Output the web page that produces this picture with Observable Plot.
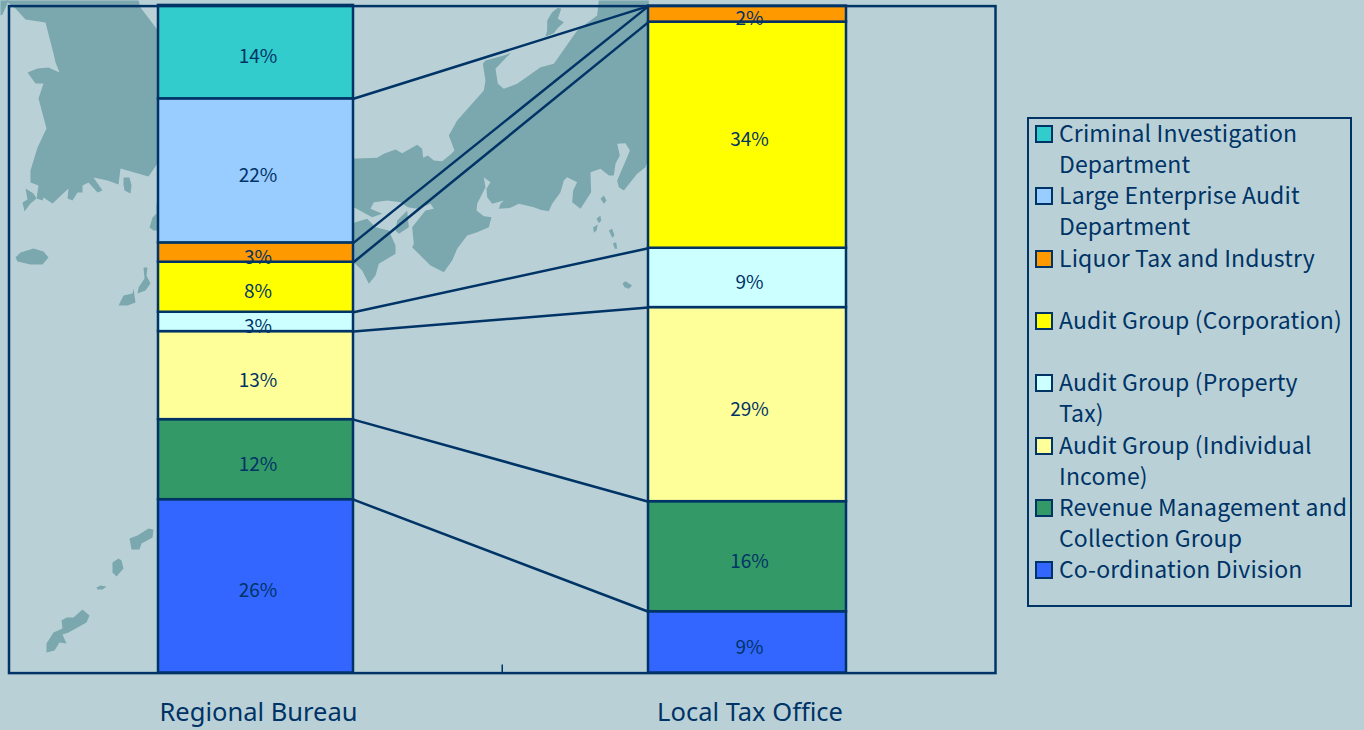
<!DOCTYPE html>
<html>
<head>
<meta charset="utf-8">
<script src="https://cdn.jsdelivr.net/npm/d3@7"></script>
<script src="https://cdn.jsdelivr.net/npm/@observablehq/plot@0.6"></script>
<style>
  html, body { margin: 0; padding: 0; background: #B9D1D6; width: 1364px; height: 730px; overflow: hidden; }
  #chart { position: absolute; left: 0; top: 0; }
  #legend { position: absolute; left: 1027px; top: 117px; width: 321px; height: 486px; border: 2px solid #003366; box-sizing: content-box;
            font-family: "Noto Sans CJK JP", "Noto Sans", sans-serif; font-size: 23px; color: #003366; letter-spacing: 0.15px; }
  .item { position: absolute; left: 0; right: 0; white-space: pre; line-height: 31px; padding-left: 30px; margin: 0; }
  .swatch { position: absolute; left: 6px; top: 8px; width: 14px; height: 14px; border: 2px solid #003366; }
</style>
</head>
<body>
<div id="chart"></div>
<div id="legend"></div>
<script>
// Series, bottom of the stack first
const seriesNames = ["Co-ordination Division", "Revenue Management and Collection Group", "Audit Group (Individual Income)",
  "Audit Group (Property Tax)", "Audit Group (Corporation)", "Liquor Tax and Industry",
  "Large Enterprise Audit Department", "Criminal Investigation Department"];
const seriesColors = ["#3366FF", "#339966", "#FFFF99", "#CCFFFF", "#FFFF00", "#FF9900", "#99CCFF", "#33CCCC"];
const legendLines = ["Criminal Investigation\nDepartment", "Large Enterprise Audit\nDepartment", "Liquor Tax and Industry",
  "Audit Group (Corporation)", "Audit Group (Property\nTax)", "Audit Group (Individual\nIncome)",
  "Revenue Management and\nCollection Group", "Co-ordination Division"];

const categories = ["Regional Bureau", "Local Tax Office"];
const regionalValues = [26, 12, 13.2, 2.9, 7.5, 2.9, 21.6, 14];
const localValues = [9.2, 16.5, 29.1, 8.9, 33.9, 2.4, 0, 0];
const regionalLabels = ["26%", "12%", "13%", "3%", "8%", "3%", "22%", "14%"];
const localLabels = ["9%", "16%", "29%", "9%", "34%", "2%", "", ""];

const koreaMain = [[5,0],[15,8],[25,19],[45,22],[53,53],[55,62],[59,72],[48,67],[37,68],[27,72],[35,83],[43,83],[38,98],[46,128],[37,147],[30,170],[30,182],[38,185],[36,198],[42,200],[43,197],[52,203],[68,188],[67,198],[72,200],[77,192],[82,192],[82,185],[88,182],[97,192],[102,190],[93,177],[107,180],[118,184],[120,168],[148,176],[157,163],[165,150],[165,40],[140,7],[138,0]];
const cornerLand = [[0,0],[8,0],[6,5],[2,14],[0,15]];
const koreaIslands = [
  [[25,188],[33,193],[36,198],[30,203],[24,211],[22,202],[27,199]],
  [[123,177],[129,177],[131,185],[130,193],[124,190],[123,184]],
  [[15,257],[20,252],[33,248],[43,251],[48,257],[42,264],[30,264],[17,261]],
  [[149,227],[152,217],[156,213],[156,203],[160,203],[160,230],[153,230]],
  [[118,305],[123,295],[132,293],[133,288],[135,302],[127,305]],
  [[143,267],[147,267],[146,275],[150,283],[145,290],[137,293],[138,287],[144,278]],
  [[129,538],[137,535],[148,528],[153,529],[152,537],[141,543],[139,549],[131,549]],
  [[112,562],[118,558],[121,560],[123,568],[116,576],[112,572]],
  [[96,587],[100,585],[106,586],[102,589],[97,589]],
  [[61,620],[66,617],[73,617],[82,609],[89,615],[86,622],[68,632],[62,634],[66,643],[59,642],[54,650],[46,652],[46,643],[53,632],[62,628]]
];
// these are in 3x crop units of the crop that starts at x = 350
const honshu = [[-40,475],[0,475],[80,472],[100,460],[135,447],[155,458],[200,433],[215,445],[218,472],[232,465],[250,480],[275,482],[300,462],[312,450],[295,405],[320,360],[400,270],[405,240],[397,190],[405,180],[460,165],[482,157],[470,168],[435,205],[442,250],[460,265],[500,250],[570,200],[610,190],[680,90],[740,45],[745,0],[895,0],[895,470],[885,500],[860,520],[820,570],[805,560],[800,540],[830,470],[838,450],[825,428],[800,430],[808,465],[795,490],[790,525],[775,525],[750,505],[720,515],[722,575],[690,625],[665,605],[668,570],[680,545],[650,530],[640,540],[630,575],[605,610],[595,632],[570,628],[550,620],[505,610],[480,622],[445,625],[450,610],[460,600],[425,610],[410,590],[408,565],[420,545],[400,530],[405,560],[380,610],[378,630],[400,647],[423,650],[415,680],[380,695],[350,705],[320,745],[305,780],[280,815],[240,795],[185,740],[190,730],[185,680],[225,630],[250,625],[240,610],[200,625],[172,620],[150,605],[110,600],[70,605],[60,625],[95,640],[65,650],[0,615],[-40,615]];
const shikoku = [[-40,670],[0,670],[50,655],[75,680],[115,690],[135,735],[135,760],[85,790],[75,825],[55,850],[35,810],[10,785],[-40,785]];
const awaji = [[140,660],[170,630],[175,680],[145,700],[135,690]];
const sado = [[590,60],[605,35],[622,22],[632,25],[622,55],[640,65],[620,85],[610,98],[585,108],[590,90]];
const izu = [
  [[750,595],[760,585],[768,600],[760,610]],
  [[738,655],[750,645],[752,660],[745,668]],
  [[728,680],[742,672],[738,690],[730,697]],
  [[775,690],[785,685],[792,705],[785,712]],
  [[787,728],[797,725],[800,745],[793,745]],
  [[816,848],[825,842],[845,855],[835,865],[822,860]]
];

const inkColor = "#003366";
const landColor = "#7BA7AE";
const fontFamily = '"Noto Sans CJK JP", "Noto Sans", sans-serif';

const plotTop = 5.6, plotBottom = 672.6, plotLeft = 8.5, plotRight = 995;
const barCenters = [255.5, 747];
const barHalfWidths = [97.5, 99];
const toPercent = py => (plotBottom - py) / (plotBottom - plotTop) * 100;

// Map table
const shapes = [koreaMain, cornerLand, ...koreaIslands,
  ...[honshu, shikoku, awaji, sado, ...izu].map(s => s.map(([x, y]) => [350 + x / 3, y / 3]))];
const mapPoints = shapes.flatMap((s, id) => s.map(([x, y]) => ({id, x, y: toPercent(y)})));

// Bar table
const columns = [regionalValues, localValues].map((vals, c) => {
  const cum = Array.from(d3.cumsum(vals));
  return vals.map((v, i) => ({
    series: seriesNames[i],
    category: categories[c],
    x1: barCenters[c] - barHalfWidths[c],
    x2: barCenters[c] + barHalfWidths[c],
    xc: barCenters[c],
    y1: cum[i] - v,
    y2: cum[i],
    value: v,
    label: (c === 0 ? regionalLabels : localLabels)[i]
  }));
});
const bars = columns.flat().filter(d => d.value > 0);
const links = seriesNames.slice(0, 7).map((s, i) => ({
  x1: columns[0][i].x2, y1: columns[0][i].y2,
  x2: columns[1][i].x1, y2: columns[1][i].y2
}));
const midTick = [(plotLeft + plotRight) / 2];

const chart = Plot.plot({
  width: 1000, height: 730,
  marginLeft: plotLeft, marginRight: 1000 - plotRight, marginTop: plotTop, marginBottom: 730 - plotBottom,
  style: {background: "transparent", overflow: "visible", fontFamily},
  x: {domain: [plotLeft, plotRight]},
  y: {domain: [0, 100], axis: null},
  color: {domain: seriesNames, range: seriesColors},
  marks: [
    Plot.line(mapPoints, {x: "x", y: "y", z: "id", fill: landColor, stroke: "none", curve: "linear-closed"}),
    Plot.rectY(bars, {x1: "x1", x2: "x2", y1: "y1", y2: "y2", fill: "series", stroke: inkColor, strokeWidth: 2.5}),
    Plot.link(links, {x1: "x1", y1: "y1", x2: "x2", y2: "y2", stroke: inkColor, strokeWidth: 2.5}),
    Plot.ruleX(midTick, {y1: 0, y2: 1.2, stroke: inkColor, strokeWidth: 1.5}),
    Plot.frame({stroke: inkColor, strokeWidth: 2.5}),
    Plot.text(bars.filter(d => d.label), {x: "xc", y: d => (d.y1 + d.y2) / 2, text: "label", fill: inkColor,
      fontSize: 19, dx: 2, dy: 5, fontFamily}),
    Plot.axisX({ticks: barCenters, tickFormat: v => categories[barCenters.indexOf(v)], tickSize: 0, tickPadding: 30,
      fontSize: 25.5, label: null, color: inkColor, fontFamily: '"Noto Sans", sans-serif', dx: 2.5})
  ]
});
document.getElementById("chart").append(chart);

// Legend
const legend = document.getElementById("legend");
const itemStep = 62.3;
legendLines.forEach((text, i) => {
  const seriesIndex = seriesNames.length - 1 - i;
  const item = document.createElement("div");
  item.className = "item";
  item.style.top = (i * itemStep - 2) + "px";
  item.textContent = text;
  const sw = document.createElement("div");
  sw.className = "swatch";
  sw.style.background = seriesColors[seriesIndex];
  item.append(sw);
  legend.append(item);
});
</script>
</body>
</html>
